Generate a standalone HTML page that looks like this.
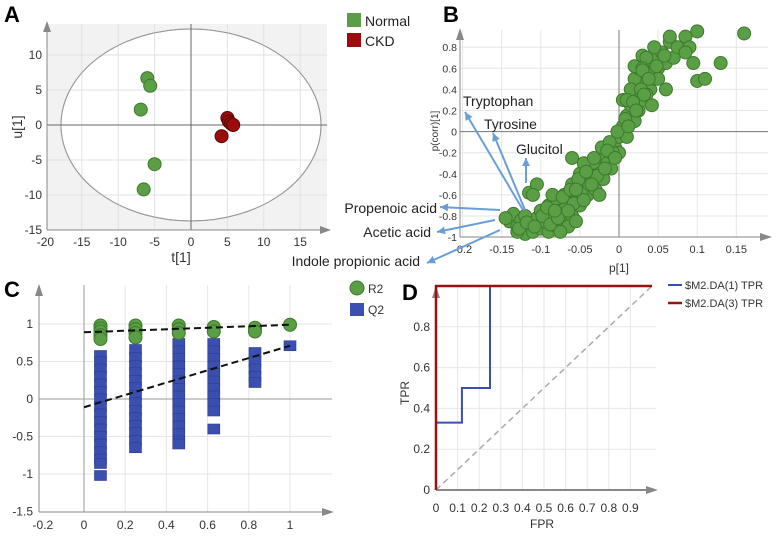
<!DOCTYPE html>
<html><head><meta charset="utf-8"><style>
html,body{margin:0;padding:0;background:#fff;}
svg{display:block;font-family:"Liberation Sans","DejaVu Sans",sans-serif;}
</style></head><body>
<svg id="fig" width="776" height="537" viewBox="0 0 776 537" xmlns="http://www.w3.org/2000/svg">
<g id="pa"></g>
<g id="pb"></g>
<g id="pc"></g>
<g id="pd"></g>
</svg>
<script>
// Panel A data
const aNormalT = [-6, -5.6, -6.9, -5, -6.5];
const aNormalU = [6.7, 5.6, 2.2, -5.6, -9.2];
const aCkdT = [5, 5.2, 5.5, 5.8, 4.2];
const aCkdU = [1, 0.5, 0.2, 0, -1.6];
const aXTicks = [-20, -15, -10, -5, 0, 5, 10, 15];
const aYTicks = [10, 5, 0, -5, -10, -15];
// Panel B data
const bP = [-0.14,-0.135,-0.13,-0.125,-0.12,-0.115,-0.11,-0.105,-0.1,-0.1,-0.095,-0.09,-0.09,-0.085,-0.08,-0.08,-0.075,-0.07,-0.07,-0.065,-0.06,-0.06,-0.055,-0.05,-0.05,-0.045,-0.04,-0.04,-0.035,-0.03,-0.03,-0.025,-0.02,-0.02,-0.015,-0.01,-0.01,-0.005,0,0,0.005,0.01,0.01,0.015,0.02,0.02,0.025,0.03,0.03,0.035,0.04,0.04,0.045,0.05,0.05,0.055,0.06,0.065,0.07,0.075,0.085,0.09,0.1,0.095,0.1,0.11,0.13,0.16,-0.115,-0.105,-0.11,0.02,0.025,0.03,0.035,-0.06,-0.045,-0.065,-0.085,-0.12,-0.13,0.005,0.065,0.045,-0.025,-0.055,-0.075,0.015,0.02,0.035,0.04,0.01,0.03,0.05,0.06,0.085,0.03,
 -0.145,-0.128,-0.118,-0.108,-0.098,-0.088,-0.078,-0.068,-0.058,-0.048,-0.038,-0.028,-0.018,-0.008,-0.092,-0.082,-0.072,-0.062,-0.052,-0.042,-0.032,-0.022,-0.012,-0.002,0.008,0.018,0.028,0.038,0.048,0.058,0.012,0.022,0.032,0.042,-0.035,-0.045,-0.055,-0.065,-0.015,-0.005];
const bCorr = [-0.85,-0.78,-0.9,-0.84,-0.97,-0.88,-0.95,-0.82,-0.92,-0.75,-0.85,-0.7,-0.95,-0.8,-0.9,-0.65,-0.75,-0.85,-0.6,-0.7,-0.8,-0.5,-0.65,-0.7,-0.4,-0.55,-0.6,-0.35,-0.45,-0.55,-0.3,-0.4,-0.25,-0.45,-0.3,-0.2,-0.35,-0.15,-0.05,-0.2,0.05,0.15,-0.05,0.25,0.1,0.35,0.2,0.45,0.3,0.55,0.4,0.65,0.5,0.7,0.6,0.75,0.65,0.85,0.7,0.8,0.9,0.8,0.95,0.65,0.48,0.5,0.65,0.93,-0.58,-0.5,-0.6,0.5,0.6,0.72,0.35,-0.25,-0.3,-0.9,-0.6,-0.8,-0.95,0.3,0.9,0.8,-0.6,-0.85,-0.95,0.4,0.62,0.7,0.55,0.3,0.6,0.5,0.4,0.75,0.58,
 -0.82,-0.92,-0.86,-0.9,-0.8,-0.88,-0.82,-0.72,-0.68,-0.58,-0.5,-0.42,-0.35,-0.2,-0.72,-0.75,-0.62,-0.55,-0.45,-0.38,-0.25,-0.15,-0.1,0,0.12,0.28,0.4,0.5,0.62,0.72,0.05,0.2,0.35,0.25,-0.5,-0.65,-0.55,-0.75,-0.18,-0.25];
const bXTicks = [-0.2,-0.15,-0.1,-0.05,0,0.05,0.1,0.15];
const bYTicks = [0.8,0.6,0.4,0.2,0,-0.2,-0.4,-0.6,-0.8,-1];
// Panel C data
const cR2X = [0.08,0.08,0.08,0.08,0.08,0.25,0.25,0.25,0.25,0.46,0.46,0.46,0.63,0.63,0.83,0.83,1];
const cR2Y = [0.98,0.94,0.9,0.85,0.8,0.98,0.93,0.88,0.82,0.98,0.93,0.88,0.96,0.9,0.95,0.9,0.99];
const cQ2X = [0.08,0.08,0.08,0.08,0.08,0.08,0.08,0.08,0.08,0.08,0.08,0.08,0.08,0.08,0.08,0.08,0.08,
 0.25,0.25,0.25,0.25,0.25,0.25,0.25,0.25,0.25,0.25,0.25,0.25,0.25,0.25,
 0.46,0.46,0.46,0.46,0.46,0.46,0.46,0.46,0.46,0.46,0.46,0.46,0.46,0.46,0.46,
 0.63,0.63,0.63,0.63,0.63,0.63,0.63,0.63,0.63,0.63,0.63,
 0.83,0.83,0.83,0.83,0.83,1];
const cQ2Y = [0.58,0.5,0.4,0.3,0.2,0.1,0,-0.1,-0.2,-0.3,-0.4,-0.5,-0.6,-0.7,-0.8,-0.86,-1.02,
 0.66,0.55,0.45,0.35,0.25,0.15,0.05,-0.05,-0.15,-0.25,-0.35,-0.45,-0.55,-0.65,
 0.74,0.64,0.54,0.44,0.34,0.24,0.14,0.04,-0.06,-0.16,-0.26,-0.36,-0.46,-0.56,-0.6,
 0.74,0.64,0.54,0.44,0.34,0.24,0.14,0.04,-0.06,-0.16,-0.4,
 0.62,0.5,0.4,0.3,0.22,0.71];
const cR2Line = [0.89, 0.99];
const cQ2Line = [-0.11, 0.71];
const cXTicks = [-0.2,0,0.2,0.4,0.6,0.8,1];
const cYTicks = [1,0.5,0,-0.5,-1,-1.5];
// Panel D data
const dBlueX = [0,0,0.12,0.12,0.25,0.25,1];
const dBlueY = [0,0.33,0.33,0.5,0.5,1,1];
const dRedX = [0,0,1];
const dRedY = [0,1,1];
const dXTicks = [0,0.1,0.2,0.3,0.4,0.5,0.6,0.7,0.8,0.9];
const dYTicks = [0,0.2,0.4,0.6,0.8];

const NS="http://www.w3.org/2000/svg";
function mk(parent,tag,attrs,text){const e=document.createElementNS(NS,tag);for(const k in attrs)e.setAttribute(k,attrs[k]);if(text!==undefined)e.textContent=text;parent.appendChild(e);return e;}
function fmt(v){return String(Math.round(v*100)/100);}

/* ---------- Panel A ---------- */
(function(){
const g=document.getElementById('pa');
const X=v=>191+v*36.4/5, Y=v=>125-v*7;
let e=mk(g,'text',{x:4,y:22,'font-size':22,'font-weight':'bold'},'A');

e=mk(g,'rect',{x:47,y:24,width:280,height:206,fill:'#f2f2f2'});

e=mk(g,'ellipse',{cx:X(0),cy:Y(0),rx:130,ry:96,fill:'#fff',stroke:'#999','stroke-width':1});

aXTicks.forEach(t=>{if(t>-20){e=mk(g,'line',{x1:X(t),x2:X(t),y1:24,y2:230,stroke:'#e2e2e2'});
}
e=mk(g,'text',{x:X(t),y:246,'font-size':12,'text-anchor':'middle',fill:'#333'},t);
});
aYTicks.forEach(t=>{if(t>-15){e=mk(g,'line',{x1:47,x2:327,y1:Y(t),y2:Y(t),stroke:'#e2e2e2'});
}
e=mk(g,'text',{x:42,y:Y(t)+4,'font-size':12,'text-anchor':'end',fill:'#333'},t);
});
mk(g,'ellipse',{cx:X(0),cy:Y(0),rx:130,ry:96,fill:'none',stroke:'#999','stroke-width':1});
e=mk(g,'line',{x1:X(0),x2:X(0),y1:24,y2:230,stroke:'#666'});
e=mk(g,'line',{x1:47,x2:327,y1:Y(0),y2:Y(0),stroke:'#666'});
e=mk(g,'line',{x1:47,x2:47,y1:24,y2:230,stroke:'#888'});
e=mk(g,'line',{x1:47,x2:326,y1:230,y2:230,stroke:'#888'});
mk(g,'path',{d:'M43,32 L47,21 L51,32 Z',fill:'#888'});
mk(g,'path',{d:'M320,226 L331,230 L320,234 Z',fill:'#888'});
e=mk(g,'text',{x:X(0)-10,y:262,'font-size':14,'text-anchor':'middle',fill:'#333'},'t[1]');

e=mk(g,'text',{x:0,y:0,'font-size':14,'text-anchor':'middle',fill:'#333',transform:'translate(22,127) rotate(-90)'},'u[1]');

aNormalT.forEach((t,i)=>{e=mk(g,'circle',{cx:X(t),cy:Y(aNormalU[i]),r:6.5,fill:'#5a9e46',stroke:'#3d7a2c','stroke-width':1});
});
aCkdT.forEach((t,i)=>{e=mk(g,'circle',{cx:X(t),cy:Y(aCkdU[i]),r:6.5,fill:'#9b0d0d',stroke:'#5e0505','stroke-width':1});
});
e=mk(g,'rect',{x:347,y:13,width:14,height:14,fill:'#5a9e46'});
e=mk(g,'text',{x:365,y:26,'font-size':14,fill:'#222'},'Normal');
e=mk(g,'rect',{x:347,y:33,width:14,height:14,fill:'#9b0d0d'});
e=mk(g,'text',{x:365,y:46,'font-size':14,fill:'#222'},'CKD');
})();

/* ---------- Panel B ---------- */
(function(){
const g=document.getElementById('pb');
const X=v=>619+v*782, Y=v=>131.6-v*105.5;
const AX=460;
let e=mk(g,'text',{x:443,y:22,'font-size':22,'font-weight':'bold'},'B');

bXTicks.forEach(t=>{e=mk(g,'line',{x1:X(t),x2:X(t),y1:30,y2:237,stroke:'#e6e6e6'});

e=mk(g,'text',{x:X(t),y:253,'font-size':11,'text-anchor':'middle',fill:'#333'},fmt(t));
});
bYTicks.forEach(t=>{e=mk(g,'line',{x1:AX,x2:768,y1:Y(t),y2:Y(t),stroke:'#e6e6e6'});

e=mk(g,'text',{x:AX-3,y:Y(t)+4,'font-size':10.5,'text-anchor':'end',fill:'#333'},fmt(t));
});
e=mk(g,'line',{x1:X(0),x2:X(0),y1:30,y2:237,stroke:'#777'});
e=mk(g,'line',{x1:AX,x2:768,y1:Y(0),y2:Y(0),stroke:'#777'});
e=mk(g,'line',{x1:AX,x2:AX,y1:30,y2:237,stroke:'#888'});
e=mk(g,'line',{x1:AX,x2:766,y1:237,y2:237,stroke:'#888'});
mk(g,'path',{d:'M456,40 L460,28 L464,40 Z',fill:'#888'});
mk(g,'path',{d:'M760,233 L772,237 L760,241 Z',fill:'#888'});
bP.forEach((p,i)=>{e=mk(g,'circle',{cx:X(p),cy:Y(bCorr[i]),r:6.5,fill:'#5a9e46',stroke:'#3d7a2c','stroke-width':1});
});
e=mk(g,'text',{x:X(0),y:272,'font-size':12,'text-anchor':'middle',fill:'#333'},'p[1]');

e=mk(g,'text',{x:0,y:0,'font-size':10,'text-anchor':'middle',fill:'#333',transform:'translate(438,131) rotate(-90)'},'p(corr)[1]');

const arrows=[['Tryptophan',523,210,465,112,463,106,'start'],['Tyrosine',525,210,493,133,484,129,'start'],['Glucitol',526,183,526,158,516,154,'start'],['Propenoic acid',500,210,440,207,437,213,'end'],['Acetic acid',495,220,437,232,431,237,'end'],['Indole propionic acid',500,230,427,263,420,266,'end']];
arrows.forEach(a=>{
e=mk(g,'line',{x1:a[1],y1:a[2],x2:a[3],y2:a[4],stroke:'#6a9fd6','stroke-width':2});

const ang=Math.atan2(a[4]-a[2],a[3]-a[1]);const L=8,W=4;
const bx=a[3]-L*Math.cos(ang),by=a[4]-L*Math.sin(ang);
mk(g,'path',{d:`M${a[3]},${a[4]} L${bx-W*Math.sin(ang)},${by+W*Math.cos(ang)} L${bx+W*Math.sin(ang)},${by-W*Math.cos(ang)} Z`,fill:'#6a9fd6'});
e=mk(g,'text',{x:a[5],y:a[6],'font-size':14,'text-anchor':a[7],fill:'#222'},a[0]);

});
})();

/* ---------- Panel C ---------- */
(function(){
const g=document.getElementById('pc');
const X=v=>84+v*206, Y=v=>399-v*75;
let e=mk(g,'text',{x:4,y:297,'font-size':22,'font-weight':'bold'},'C');

cXTicks.forEach(t=>{if(t>-0.2){e=mk(g,'line',{x1:X(t),x2:X(t),y1:285,y2:512,stroke:'#e6e6e6'});
}
e=mk(g,'text',{x:X(t),y:529,'font-size':12,'text-anchor':'middle',fill:'#333'},fmt(t));
});
cYTicks.forEach(t=>{if(t>-1.5){e=mk(g,'line',{x1:39,x2:332,y1:Y(t),y2:Y(t),stroke:'#e6e6e6'});
}
e=mk(g,'text',{x:33,y:Y(t)+4,'font-size':12,'text-anchor':'end',fill:'#333'},fmt(t));
});
e=mk(g,'line',{x1:X(0),x2:X(0),y1:285,y2:512,stroke:'#999'});
e=mk(g,'line',{x1:39,x2:332,y1:Y(0),y2:Y(0),stroke:'#999'});
e=mk(g,'line',{x1:39,x2:39,y1:285,y2:512,stroke:'#888'});
e=mk(g,'line',{x1:39,x2:328,y1:512,y2:512,stroke:'#888'});
mk(g,'path',{d:'M35,296 L39,284 L43,296 Z',fill:'#888'});
mk(g,'path',{d:'M322,508 L334,512 L322,516 Z',fill:'#888'});
cQ2X.forEach((x,i)=>{e=mk(g,'rect',{x:X(x)-6,y:Y(cQ2Y[i])-5,width:12,height:10,fill:'#3a4fb0',stroke:'#2c3c8c','stroke-width':0.6});
});
cR2X.forEach((x,i)=>{e=mk(g,'circle',{cx:X(x),cy:Y(cR2Y[i]),r:6.5,fill:'#5a9e46',stroke:'#3d7a2c','stroke-width':1});
});
e=mk(g,'line',{x1:X(0),y1:Y(cR2Line[0]),x2:X(1),y2:Y(cR2Line[1]),stroke:'#111','stroke-width':2,'stroke-dasharray':'7,4'});

e=mk(g,'line',{x1:X(0),y1:Y(cQ2Line[0]),x2:X(1),y2:Y(cQ2Line[1]),stroke:'#111','stroke-width':2,'stroke-dasharray':'7,4'});

e=mk(g,'circle',{cx:357,cy:288,r:7,fill:'#5a9e46',stroke:'#3d7a2c'});
e=mk(g,'text',{x:368,y:293,'font-size':12,fill:'#333'},'R2');
e=mk(g,'rect',{x:350,y:303,width:14,height:13,fill:'#3a4fb0'});
e=mk(g,'text',{x:368,y:314,'font-size':12,fill:'#333'},'Q2');
})();

/* ---------- Panel D ---------- */
(function(){
const g=document.getElementById('pd');
const X=v=>436+v*216, Y=v=>490-v*204;
let e=mk(g,'text',{x:402,y:300,'font-size':22,'font-weight':'bold'},'D');

dXTicks.forEach(t=>{if(t>0){e=mk(g,'line',{x1:X(t),x2:X(t),y1:286,y2:490,stroke:'#e6e6e6'});
}
e=mk(g,'text',{x:X(t),y:512,'font-size':12,'text-anchor':'middle',fill:'#333'},fmt(t));
});
dYTicks.forEach(t=>{if(t>0){e=mk(g,'line',{x1:436,x2:656,y1:Y(t),y2:Y(t),stroke:'#e6e6e6'});
}
e=mk(g,'text',{x:430,y:Y(t)+4,'font-size':12,'text-anchor':'end',fill:'#333'},fmt(t));
});
e=mk(g,'line',{x1:436,x2:436,y1:286,y2:490,stroke:'#888'});
e=mk(g,'line',{x1:436,x2:652,y1:490,y2:490,stroke:'#888','stroke-width':2});
mk(g,'path',{d:'M432,298 L436,286 L440,298 Z',fill:'#888'});
mk(g,'path',{d:'M646,486 L658,490 L646,494 Z',fill:'#888'});
e=mk(g,'line',{x1:X(0),y1:Y(0),x2:X(1),y2:Y(1),stroke:'#aaa','stroke-width':1.5,'stroke-dasharray':'6,4'});

e=mk(g,'polyline',{points:dBlueX.map((x,i)=>X(x)+','+Y(dBlueY[i])).join(' '),fill:'none',stroke:'#3a4fb0','stroke-width':2});

e=mk(g,'polyline',{points:dRedX.map((x,i)=>X(x)+','+Y(dRedY[i])).join(' '),fill:'none',stroke:'#9b1010','stroke-width':2.5});

e=mk(g,'text',{x:X(0.5)-2,y:528,'font-size':12,'text-anchor':'middle',fill:'#333'},'FPR');

e=mk(g,'text',{x:0,y:0,'font-size':12,'text-anchor':'middle',fill:'#333',transform:'translate(409,393) rotate(-90)'},'TPR');

e=mk(g,'line',{x1:668,x2:682,y1:285,y2:285,stroke:'#3a4fb0','stroke-width':2});
e=mk(g,'text',{x:685,y:289,'font-size':11,fill:'#333'},'$M2.DA(1) TPR');
e=mk(g,'line',{x1:668,x2:682,y1:303,y2:303,stroke:'#9b1010','stroke-width':2.5});
e=mk(g,'text',{x:685,y:307,'font-size':11,fill:'#333'},'$M2.DA(3) TPR');
})();
</script>
</body></html>
